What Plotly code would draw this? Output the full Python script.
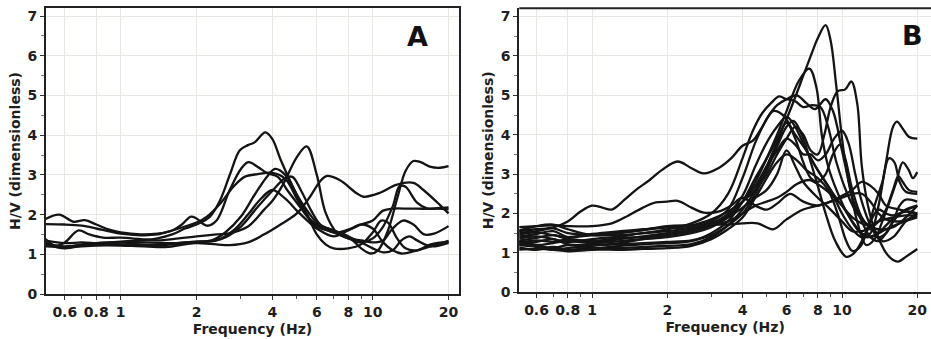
import plotly.graph_objects as go

# ---------------- data (frequency Hz, H/V) ----------------
A1_f = [0.5,0.55,0.6,0.7,0.8,0.9,1.0,1.2,1.4,1.6,1.8,2.0,2.26,2.48,2.72,2.97,3.2,3.4,3.75,4.0,4.3,4.7,5.0,5.5,6.0,6.5,7.0,8.0,9.0,10,10.8,11.5,12.5,13.5,15,17,20]
A1_v = [1.30,1.22,1.18,1.25,1.28,1.30,1.32,1.35,1.40,1.50,1.65,1.75,1.95,2.36,3.03,3.62,3.75,3.82,4.07,3.90,3.40,2.85,2.50,2.00,1.50,1.25,1.15,1.15,1.25,1.55,1.85,1.80,1.40,1.15,1.10,1.25,1.32]
A2_f = [0.5,0.55,0.6,0.68,0.75,0.85,1.0,1.2,1.4,1.7,2.0,2.4,2.7,3.2,3.7,4.0,4.4,5.0,5.47,6.0,6.5,7.2,8.0,9.0,10,11,12,13.2,14.5,16,17.5,20]
A2_v = [1.40,1.22,1.30,1.60,1.50,1.42,1.42,1.38,1.35,1.40,1.45,1.50,1.53,1.70,2.12,2.35,2.75,3.45,3.72,3.00,2.05,1.55,1.40,1.35,1.30,1.35,1.65,1.85,1.75,1.50,1.52,1.71]
A3_f = [0.5,0.6,0.8,1.0,1.3,1.6,2.0,2.4,2.71,3.2,3.68,4.28,5.0,5.64,6.17,6.55,7.39,8.63,9.2,10.7,12.4,14.5,15.9,18.5,20]
A3_v = [1.20,1.18,1.22,1.22,1.20,1.25,1.28,1.25,1.23,1.30,1.49,1.74,2.03,2.45,2.83,2.97,2.87,2.54,2.45,2.55,2.75,2.80,2.62,2.24,2.03]
A4_f = [0.5,0.57,0.65,0.72,0.8,0.9,1.0,1.2,1.4,1.6,1.75,1.9,2.0,2.2,2.4,2.7,3.0,3.21,3.5,3.8,4.2,4.6,5.0,5.5,6.0,7.0,8.0,9.0,10,11,12,12.8,13.5,15,16.5,18,20]
A4_v = [1.88,2.00,1.82,1.86,1.75,1.62,1.55,1.50,1.52,1.60,1.75,1.95,1.90,1.72,1.85,2.60,3.15,3.32,3.20,3.05,2.95,2.60,2.30,1.95,1.70,1.55,1.40,1.30,1.40,1.70,2.20,2.72,2.70,2.30,2.15,2.15,2.13]
A5_f = [0.5,0.6,0.7,0.8,0.9,1.0,1.2,1.4,1.6,1.8,2.0,2.2,2.5,2.8,3.1,3.5,4.0,4.5,5.0,5.5,6.0,7.0,8.0,9.0,10,11,12,13,14,15,17,20]
A5_v = [1.76,1.75,1.72,1.65,1.58,1.52,1.48,1.50,1.60,1.70,1.80,1.95,2.30,2.70,2.95,3.02,3.05,2.90,2.40,1.95,1.75,1.60,1.45,1.30,1.15,1.05,1.10,1.35,1.45,1.35,1.20,1.29]
A6_f = [0.5,0.6,0.7,0.8,1.0,1.2,1.5,1.8,2.0,2.3,2.6,3.0,3.4,3.8,4.1,4.5,5.0,5.5,6.0,7.0,8.0,9.0,10,11,12,14,17,20]
A6_v = [1.35,1.28,1.30,1.28,1.25,1.22,1.18,1.25,1.30,1.35,1.55,1.95,2.50,2.95,3.15,3.00,2.50,2.10,1.80,1.55,1.62,1.75,1.85,2.10,2.15,2.15,2.15,2.18]
A7_f = [0.5,0.6,0.7,0.8,1.0,1.2,1.5,1.8,2.0,2.4,2.8,3.2,3.6,4.0,4.5,5.0,5.5,6.0,7.0,8.0,9.0,10,11,12,13,14,16,18,20]
A7_v = [1.27,1.15,1.22,1.28,1.30,1.25,1.25,1.30,1.32,1.35,1.60,2.00,2.40,2.62,2.40,2.10,1.85,1.65,1.45,1.60,1.75,1.65,1.30,1.10,1.02,1.05,1.15,1.25,1.34]
A8_f = [0.5,0.6,0.8,1.0,1.3,1.6,2.0,2.5,3.0,3.5,4.0,4.5,4.8,5.2,5.7,6.2,7.0,8.0,9.0,9.8,10.5,11.5,12.5,13.5,14.5,15.5,17,18.5,20]
A8_v = [1.23,1.20,1.25,1.30,1.30,1.28,1.32,1.38,1.70,2.20,2.60,2.92,2.95,2.60,2.10,1.75,1.60,1.45,1.15,1.02,1.10,1.60,2.40,3.10,3.35,3.32,3.20,3.18,3.22]

B1_f = [0.5,0.6,0.7,0.8,0.9,1.0,1.1,1.2,1.35,1.5,1.7,1.9,2.2,2.5,2.8,3.2,3.6,4.0,4.4,4.8,5.3,5.8,6.5,7.2,8.0,9.0,10,11,12,13,14,16,18,20]
B1_v = [1.55,1.60,1.65,1.80,2.05,2.20,2.15,2.10,2.35,2.60,2.85,3.10,3.32,3.15,3.02,3.15,3.40,3.72,3.85,4.20,4.60,4.50,4.00,3.60,3.10,2.60,2.20,1.90,1.75,1.70,1.80,1.90,1.95,1.95]
B2_f = [0.5,0.6,0.7,0.8,1.0,1.2,1.4,1.6,1.8,2.0,2.2,2.5,2.8,3.2,3.6,4.0,4.5,5.0,5.5,6.2,7.0,8.0,9.0,10,11,12,13,14,15,17,20]
B2_v = [1.65,1.68,1.70,1.68,1.68,1.75,1.95,2.15,2.28,2.30,2.32,2.15,2.02,2.05,2.20,2.40,2.20,2.10,2.25,2.50,2.30,2.20,2.30,2.45,2.60,2.80,2.70,2.50,2.20,2.10,2.00]
B3_f = [0.5,0.6,0.7,0.8,1.0,1.3,1.6,2.0,2.5,3.0,3.5,4.0,4.5,5.0,5.5,6.0,6.5,7.0,7.5,8.0,8.6,9.0,9.5,10.2,11,12,13,14,15,16,18,20]
B3_v = [1.30,1.20,1.12,1.20,1.12,1.18,1.22,1.25,1.30,1.50,1.80,2.30,2.90,3.40,3.90,4.40,4.95,5.50,6.00,6.45,6.78,6.40,5.20,3.50,2.40,1.80,1.40,1.30,1.50,1.80,2.10,2.20]
B4_f = [0.5,0.6,0.7,0.8,1.0,1.3,1.6,2.0,2.5,3.0,3.5,4.0,4.5,5.0,5.5,6.0,6.7,7.4,7.9,8.3,8.8,9.5,10.5,11.5,12.5,13.5,15,17,20]
B4_v = [1.20,1.28,1.35,1.22,1.20,1.25,1.35,1.45,1.55,1.70,1.90,2.30,2.80,3.40,4.00,4.60,5.35,5.68,5.20,4.00,3.20,2.60,2.00,1.60,1.40,1.45,1.60,1.75,1.90]
B5_f = [0.5,0.6,0.7,0.8,1.0,1.3,1.6,2.0,2.5,3.0,3.5,4.0,4.5,5.0,5.5,6.0,6.5,7.0,7.5,8.0,8.5,9.0,9.6,10.3,10.9,11.5,12.0,12.7,13.5,14.5,16,18,20]
B5_v = [1.40,1.48,1.55,1.40,1.45,1.52,1.58,1.65,1.70,1.85,2.05,2.30,2.60,3.00,3.50,3.90,4.20,4.00,3.60,3.50,4.00,4.70,5.10,5.15,5.35,4.80,3.20,2.20,1.60,1.30,1.40,1.80,2.00]
B6_f = [0.5,0.6,0.7,0.8,1.0,1.3,1.6,2.0,2.5,3.0,3.5,4.0,4.4,4.8,5.2,5.6,6.0,6.5,7.0,7.6,8.2,8.8,9.5,10.5,11.5,12.5,14,16,18,20]
B6_v = [1.50,1.55,1.62,1.50,1.45,1.45,1.50,1.60,1.75,2.00,2.50,3.40,4.10,4.55,4.80,4.97,4.90,4.85,4.70,4.75,4.70,4.20,3.30,2.50,2.00,1.75,1.60,1.65,1.90,2.20]
B7_f = [0.5,0.6,0.7,0.8,1.0,1.3,1.6,2.0,2.5,3.0,3.5,4.0,4.5,5.0,5.5,6.0,6.6,7.2,7.8,8.6,9.2,10,10.8,11.5,12.5,13.5,14.5,15.5,16.5,17.5,18.5,19.2,20]
B7_v = [1.35,1.42,1.35,1.28,1.35,1.42,1.50,1.55,1.65,1.80,2.10,2.90,3.80,4.40,4.75,4.90,5.00,4.80,4.65,4.90,4.60,3.60,2.60,1.80,1.20,1.35,1.80,2.30,2.80,3.30,3.10,2.90,3.05]
B8_f = [0.5,0.6,0.7,0.8,1.0,1.3,1.6,2.0,2.5,3.0,3.5,4.0,4.5,5.0,5.5,6.0,6.5,7.0,7.5,8.0,8.6,9.3,10.0,10.6,11.3,12,13,14,15,16,17,18,20]
B8_v = [1.25,1.32,1.28,1.35,1.30,1.38,1.40,1.45,1.55,1.70,1.95,2.30,2.70,3.20,3.60,3.90,3.75,3.50,3.50,3.35,3.50,3.90,4.10,3.80,3.00,2.30,1.70,1.40,1.50,1.80,2.20,2.35,2.30]
B9_f = [0.5,0.6,0.7,0.8,1.0,1.3,1.6,2.0,2.5,3.0,3.5,4.0,4.5,5.0,5.5,6.0,6.5,7.0,7.5,8.0,8.6,9.2,9.8,10.3,11,12,13,14,15,16,16.8,17.5,18.5,20]
B9_v = [1.15,1.08,1.15,1.08,1.12,1.12,1.15,1.18,1.22,1.40,1.70,2.10,2.60,3.20,3.80,4.30,3.90,3.30,2.90,2.80,3.00,3.50,3.75,3.40,2.60,1.90,1.65,1.80,2.10,2.60,2.95,2.80,2.60,2.55]
B10_f = [0.5,0.6,0.7,0.8,1.0,1.3,1.6,2.0,2.5,3.0,3.5,4.0,4.5,5.0,5.5,6.0,6.6,7.2,8.0,8.8,9.6,10.4,11,11.8,12.5,13.5,14.5,15.4,16.2,17,18,20]
B10_v = [1.08,1.10,1.08,1.04,1.08,1.08,1.10,1.12,1.18,1.35,1.60,1.90,2.40,2.90,3.30,3.50,3.35,3.10,2.90,2.60,2.00,1.30,1.05,1.15,1.50,2.20,2.80,3.40,3.30,2.80,2.55,2.50]
B11_f = [0.5,0.6,0.7,0.8,1.0,1.3,1.6,2.0,2.5,3.0,3.5,4.0,4.5,5.0,5.5,6.0,6.5,7.2,8.0,9,10,11,12,13,14,15,16,16.6,17.5,18.5,20]
B11_v = [1.30,1.38,1.45,1.35,1.30,1.35,1.42,1.50,1.60,1.75,2.00,2.45,3.20,3.80,4.20,4.45,4.20,3.60,3.10,2.60,2.00,1.60,1.40,1.50,2.20,3.30,4.20,4.33,4.15,3.95,3.90]
B12_f = [0.5,0.6,0.7,0.8,1.0,1.3,1.6,2.0,2.5,3.0,3.5,4.0,4.5,5.0,5.5,6.0,6.6,7.4,8.2,9,10,11,12,13,14,15,17,20]
B12_v = [1.45,1.52,1.45,1.40,1.48,1.55,1.60,1.65,1.62,1.70,1.80,2.00,2.20,2.30,2.40,2.55,2.75,2.85,2.70,2.50,2.20,1.80,1.50,1.40,1.50,1.70,2.00,2.20]
B13_f = [0.5,0.6,0.7,0.8,1.0,1.3,1.6,2.0,2.5,3.0,3.5,4.0,4.6,5.3,6.0,7.0,8.0,9,10,11,12,13,14,15,17,20]
B13_v = [1.55,1.68,1.72,1.60,1.45,1.50,1.58,1.68,1.70,1.72,1.72,1.75,1.75,1.60,1.85,2.10,2.20,2.30,2.40,2.50,2.50,2.30,2.00,1.85,1.80,1.95]
B14_f = [0.5,0.6,0.7,0.8,1.0,1.3,1.6,2.0,2.5,3.0,3.5,4.0,4.5,5.0,5.5,6.0,6.4,7.0,7.5,8.0,8.6,9.4,10.4,11.2,12,13,14,15,16,18,20]
B14_v = [1.20,1.15,1.08,1.12,1.18,1.22,1.25,1.28,1.32,1.45,1.70,2.00,2.50,3.10,3.70,4.20,4.35,3.90,3.30,2.70,2.00,1.30,0.90,1.00,1.30,1.80,2.10,2.00,1.95,2.05,2.00]
B15_f = [0.5,0.6,0.7,0.8,1.0,1.3,1.6,2.0,2.5,3.0,3.5,4.0,4.5,5.0,5.5,6.0,6.5,7.0,8.0,9.0,10,11,12,13,14,15,16,16.8,18,20]
B15_v = [1.25,1.20,1.25,1.30,1.25,1.30,1.35,1.40,1.50,1.65,1.90,2.15,2.40,2.60,3.00,3.60,3.20,2.80,2.40,2.10,1.80,1.55,1.55,1.60,1.35,1.00,0.82,0.78,0.90,1.10]

panel_A = [(A1_f, A1_v), (A2_f, A2_v), (A3_f, A3_v), (A4_f, A4_v),
           (A5_f, A5_v), (A6_f, A6_v), (A7_f, A7_v), (A8_f, A8_v)]
panel_B = [(B1_f, B1_v), (B2_f, B2_v), (B3_f, B3_v), (B4_f, B4_v), (B5_f, B5_v),
           (B6_f, B6_v), (B7_f, B7_v), (B8_f, B8_v), (B9_f, B9_v), (B10_f, B10_v),
           (B11_f, B11_v), (B12_f, B12_v), (B13_f, B13_v), (B14_f, B14_v), (B15_f, B15_v)]

x_tickvals = [0.6, 0.8, 1, 2, 4, 6, 8, 10, 20]
x_ticktext = ["0.6", "0.8", "1", "2", "4", "6", "8", "10", "20"]
x_minor = [0.7, 0.9, 3, 5, 7, 9]
y_tickvals = [0, 1, 2, 3, 4, 5, 6, 7]
y_ticktext = ["0", "1", "2", "3", "4", "5", "6", "7"]
y_minor = [0.5, 1.5, 2.5, 3.5, 4.5, 5.5, 6.5]

# ---------------- figure ----------------
W, H = 931, 339
FONT = "DejaVu Sans"
TXT = "#1e1e1e"
GRID = "#e8e8e2"
LINE = "#141414"

fig = go.Figure()
for f, v in panel_A:
    fig.add_trace(go.Scatter(x=f, y=v, mode="lines", xaxis="x", yaxis="y",
                             line=dict(color=LINE, width=2.3, shape="spline", smoothing=1.0),
                             showlegend=False, hoverinfo="skip"))
for f, v in panel_B:
    fig.add_trace(go.Scatter(x=f, y=v, mode="lines", xaxis="x2", yaxis="y2",
                             line=dict(color=LINE, width=2.3, shape="spline", smoothing=1.0),
                             showlegend=False, hoverinfo="skip"))

def xaxis(domain, rng, anchor, mirror):
    return dict(type="log", domain=domain, range=rng, anchor=anchor, automargin=False,
                tickmode="array", tickvals=x_tickvals,
                ticktext=["<b>%s</b>" % t for t in x_ticktext],
                ticklabeloverflow="allow",
                ticks="outside", ticklen=4, tickwidth=1, tickcolor="#333",
                showgrid=True, gridcolor=GRID, gridwidth=1,
                minor=dict(tickmode="array", tickvals=x_minor, ticks="outside",
                           ticklen=3, tickcolor="#555", showgrid=False),
                showline=True, linecolor="#222", linewidth=2, mirror=mirror,
                zeroline=False,
                tickfont=dict(family=FONT, size=14, color=TXT),
                title=dict(text="<b>Frequency (Hz)</b>", standoff=5,
                           font=dict(family=FONT, size=14, color=TXT)))

def yaxis(domain, rng, anchor, mirror):
    return dict(domain=domain, range=rng, anchor=anchor, automargin=False,
                tickmode="array", tickvals=y_tickvals,
                ticktext=["<b>%s</b>" % t for t in y_ticktext],
                ticklabeloverflow="allow",
                ticks="outside", ticklen=4, tickwidth=1, tickcolor="#333",
                showgrid=True, gridcolor=GRID, gridwidth=1,
                minor=dict(tickmode="array", tickvals=y_minor, ticks="outside",
                           ticklen=3, tickcolor="#777", showgrid=False),
                showline=True, linecolor="#222", linewidth=2, mirror=mirror,
                zeroline=False,
                tickfont=dict(family=FONT, size=14, color=TXT),
                title=dict(text="<b>H/V (dimensionless)</b>", standoff=4,
                           font=dict(family=FONT, size=14, color=TXT)))

# pixel geometry of the two plot areas
axL, axR, axT, axB = 46, 459, 8, 294
bxL, bxR, bxT, bxB = 519.3, 931, 8.3, 292.3
a_dec, a_one = 252.0, 120.7
b_dec, b_one = 250.0, 592.0

xA_rng = [(axL - a_one) / a_dec, (axR - a_one) / a_dec]
xB_rng = [(bxL - b_one) / b_dec, (bxR - b_one) / b_dec]
yA_rng = [0, (axB - axT) / 39.7]
yB_rng = [0, (bxB - bxT) / 39.4]

fig.update_layout(
    width=W, height=H,
    margin=dict(l=0, r=0, t=0, b=0, autoexpand=False),
    paper_bgcolor="white", plot_bgcolor="white",
    xaxis=xaxis([axL / W, axR / W], xA_rng, "y", True),
    yaxis=yaxis([(H - axB) / H, (H - axT) / H], yA_rng, "x", True),
    xaxis2=xaxis([bxL / W, bxR / W], xB_rng, "y2", False),
    yaxis2=yaxis([(H - bxB) / H, (H - bxT) / H], yB_rng, "x2", False),
    font=dict(family=FONT, color=TXT),
    annotations=[
        dict(text="<b>A</b>", x=417 / W, y=1 - 37 / H, xref="paper", yref="paper",
             showarrow=False, font=dict(family=FONT, size=27, color="#111"),
             xanchor="center", yanchor="middle"),
        dict(text="<b>B</b>", x=912 / W, y=1 - 36 / H, xref="paper", yref="paper",
             showarrow=False, font=dict(family=FONT, size=27, color="#111"),
             xanchor="center", yanchor="middle"),
    ],
    shapes=[
        dict(type="line", xref="paper", yref="paper", x0=bxL / W, x1=1.0,
             y0=(H - bxT) / H, y1=(H - bxT) / H, line=dict(color="#222", width=2)),
    ],
)

fig.write_html("out.html", config={"displayModeBar": False},
               post_script="document.body.style.margin='0';document.body.style.overflow='hidden';")
